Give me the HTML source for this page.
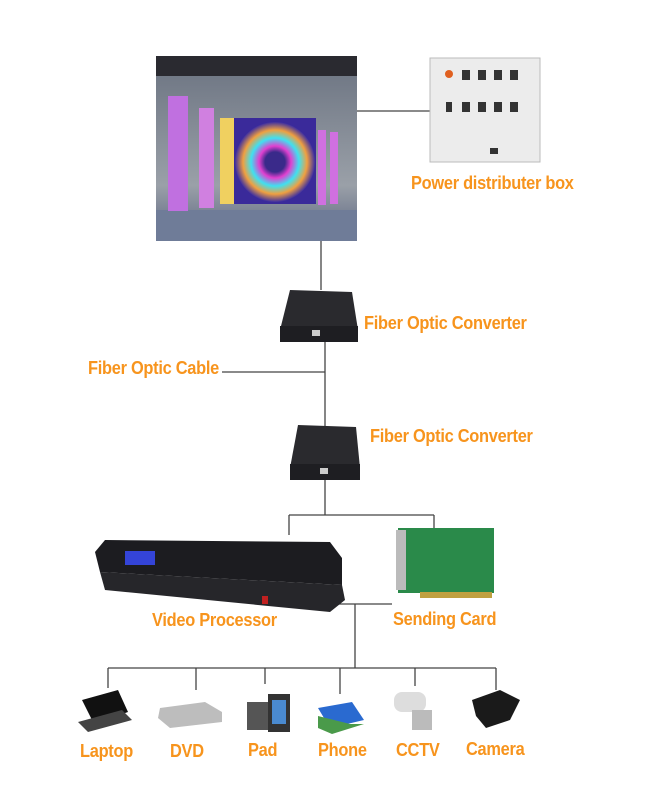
<!DOCTYPE html>
<html><head><style>
body{margin:0;width:649px;height:787px;background:#fff;position:relative;overflow:hidden;font-family:"Liberation Sans Narrow","Liberation Sans",sans-serif}
.t{position:absolute;color:#f7941d;font-weight:bold;font-size:18px;white-space:nowrap;transform-origin:left top;transform:scaleX(0.91);letter-spacing:-0.3px}
.a{position:absolute}
</style></head><body>
<svg class="a" style="left:0;top:0" width="649" height="787">
<g stroke="#444" stroke-width="1.3" fill="none">
<line x1="357" y1="111" x2="430" y2="111"/>
<line x1="321" y1="241" x2="321" y2="290"/>
<line x1="325" y1="342" x2="325" y2="428"/>
<line x1="222" y1="372" x2="325" y2="372"/>
<line x1="325" y1="480" x2="325" y2="515"/>
<line x1="289" y1="515" x2="434" y2="515"/>
<line x1="289" y1="515" x2="289" y2="535"/>
<line x1="434" y1="515" x2="434" y2="528"/>
<line x1="322" y1="604" x2="392" y2="604"/>
<line x1="355" y1="604" x2="355" y2="668"/>
<line x1="108" y1="668" x2="496" y2="668"/>
<line x1="108" y1="668" x2="108" y2="688"/>
<line x1="196" y1="668" x2="196" y2="690"/>
<line x1="265" y1="668" x2="265" y2="684"/>
<line x1="340" y1="668" x2="340" y2="694"/>
<line x1="415" y1="668" x2="415" y2="686"/>
<line x1="496" y1="668" x2="496" y2="690"/>
</g>
<defs>
<linearGradient id="sky" x1="0" y1="0" x2="0" y2="1"><stop offset="0" stop-color="#6a7280"/><stop offset="0.7" stop-color="#9aa0a8"/><stop offset="1" stop-color="#5a6480"/></linearGradient>
<radialGradient id="ring"><stop offset="0.25" stop-color="#3a2a8a"/><stop offset="0.4" stop-color="#e040d0"/><stop offset="0.6" stop-color="#40e0f0"/><stop offset="0.8" stop-color="#f0a040"/><stop offset="1" stop-color="#4030a0"/></radialGradient>
</defs>
<rect x="156" y="56" width="201" height="185" fill="url(#sky)"/>
<rect x="156" y="56" width="201" height="20" fill="#2a2a30"/>
<rect x="156" y="210" width="201" height="31" fill="#6f7c98"/>
<rect x="168" y="96" width="20" height="115" fill="#c070e0"/>
<rect x="199" y="108" width="15" height="100" fill="#d080e0"/>
<rect x="226" y="118" width="90" height="86" fill="#3a2a9a"/>
<circle cx="275" cy="162" r="40" fill="url(#ring)"/>
<rect x="220" y="118" width="14" height="86" fill="#f0d060"/>
<rect x="318" y="130" width="8" height="75" fill="#d070e0"/>
<rect x="330" y="132" width="8" height="72" fill="#d070e0"/>
<rect x="430" y="58" width="110" height="104" fill="#ececec" stroke="#bbb"/>
<g fill="#333"><rect x="462" y="70" width="8" height="10"/><rect x="478" y="70" width="8" height="10"/><rect x="494" y="70" width="8" height="10"/><rect x="510" y="70" width="8" height="10"/>
<rect x="462" y="102" width="8" height="10"/><rect x="478" y="102" width="8" height="10"/><rect x="494" y="102" width="8" height="10"/><rect x="510" y="102" width="8" height="10"/><rect x="446" y="102" width="6" height="10"/><rect x="490" y="148" width="8" height="6"/></g>
<circle cx="449" cy="74" r="4" fill="#e06020"/>
<polygon points="290,290 352,292 358,330 280,330" fill="#2a2a2e"/>
<rect x="280" y="326" width="78" height="16" fill="#1e1e22"/>
<rect x="312" y="330" width="8" height="6" fill="#ccc"/>
<polygon points="298,425 356,427 360,468 290,468" fill="#2a2a2e"/>
<rect x="290" y="464" width="70" height="16" fill="#1e1e22"/>
<rect x="320" y="468" width="8" height="6" fill="#ccc"/>
<polygon points="105,540 330,542 342,558 342,585 100,572 95,552" fill="#1c1c20"/>
<rect x="125" y="551" width="30" height="14" fill="#3444d8"/>
<polygon points="100,572 342,585 345,600 330,612 105,590" fill="#26262a"/>
<rect x="262" y="596" width="6" height="8" fill="#c02020"/>
<rect x="398" y="528" width="96" height="65" fill="#2a8a4a"/>
<rect x="396" y="530" width="10" height="60" fill="#bbb"/>
<rect x="420" y="592" width="72" height="6" fill="#c0a040"/>
<polygon points="82,700 118,690 128,712 94,724" fill="#111"/>
<polygon points="78,722 122,710 132,720 88,732" fill="#444"/>
<polygon points="160,708 205,702 222,712 222,722 170,728 158,718" fill="#bdbdbd"/>
<rect x="247" y="702" width="22" height="28" fill="#555"/>
<rect x="268" y="694" width="22" height="38" fill="#333"/>
<rect x="272" y="700" width="14" height="24" fill="#4a8ad0"/>
<polygon points="318,708 352,702 364,720 330,728" fill="#2a6ad0"/>
<polygon points="318,716 350,724 364,724 332,734 318,728" fill="#4a9a4a"/>
<rect x="394" y="692" width="32" height="20" rx="8" fill="#ddd"/>
<rect x="412" y="710" width="20" height="20" fill="#bbb"/>
<polygon points="472,700 500,690 520,700 510,720 486,728 476,716" fill="#1a1a1a"/>
</svg>
<div class="t" style="left:411px;top:173px">Power distributer box</div>
<div class="t" style="left:364px;top:313px">Fiber Optic Converter</div>
<div class="t" style="left:88px;top:358px">Fiber Optic Cable</div>
<div class="t" style="left:370px;top:426px">Fiber Optic Converter</div>
<div class="t" style="left:152px;top:610px">Video Processor</div>
<div class="t" style="left:393px;top:609px">Sending Card</div>
<div class="t" style="left:80px;top:741px">Laptop</div>
<div class="t" style="left:170px;top:741px">DVD</div>
<div class="t" style="left:248px;top:740px">Pad</div>
<div class="t" style="left:318px;top:740px">Phone</div>
<div class="t" style="left:396px;top:740px">CCTV</div>
<div class="t" style="left:466px;top:739px">Camera</div>
</body></html>
